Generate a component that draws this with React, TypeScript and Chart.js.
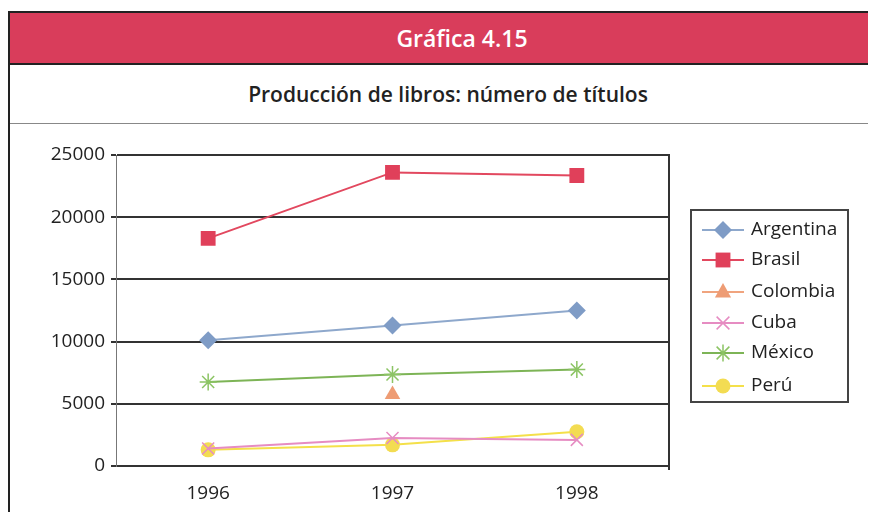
import React, { useEffect, useRef } from "react";
import { Chart, registerables } from "chart.js";

Chart.register(...registerables);

const years = ["1996", "1997", "1998"];
const argentina = [10100, 11300, 12500];
const brasil = [18300, 23600, 23350];
const colombia = [null, 5750, null];
const cuba = [1400, 2250, 2100];
const mexico = [6750, 7350, 7750];
const peru = [1300, 1700, 2750];
const yTicks = [0, 5000, 10000, 15000, 20000, 25000];

const FONT = "'Open Sans', 'DejaVu Sans', sans-serif";

type Series = {
  label: string;
  data: (number | null)[];
  line: string;
  fill: string;
  style: string;
  radius: number;
};

const series: Series[] = [
  { label: "Argentina", data: argentina, line: "#8ea8cc", fill: "#7f9cc6", style: "rectRot", radius: 9 },
  { label: "Brasil", data: brasil, line: "#e2485f", fill: "#e0405a", style: "rect", radius: 10.5 },
  { label: "Colombia", data: colombia, line: "#f0a47e", fill: "#ee9c74", style: "triangle", radius: 9 },
  { label: "Cuba", data: cuba, line: "#e68cc2", fill: "#e68cc2", style: "crossRot", radius: 8.5 },
  { label: "México", data: mexico, line: "#7db456", fill: "#8cc464", style: "star", radius: 8.5 },
  { label: "Perú", data: peru, line: "#f4e04a", fill: "#f3dc52", style: "circle", radius: 7.5 },
];

function drawMarker(ctx: CanvasRenderingContext2D, s: Series, x: number, y: number) {
  const r = s.radius;
  ctx.save();
  ctx.fillStyle = s.fill;
  ctx.strokeStyle = s.fill;
  ctx.lineWidth = 1.5;
  ctx.beginPath();
  switch (s.style) {
    case "rectRot":
      ctx.moveTo(x - r, y);
      ctx.lineTo(x, y - r);
      ctx.lineTo(x + r, y);
      ctx.lineTo(x, y + r);
      ctx.closePath();
      ctx.fill();
      break;
    case "rect": {
      const h = r * Math.SQRT1_2;
      ctx.rect(x - h, y - h, 2 * h, 2 * h);
      ctx.fill();
      break;
    }
    case "triangle":
      ctx.moveTo(x, y - r);
      ctx.lineTo(x + r * 0.9, y + r * 0.6);
      ctx.lineTo(x - r * 0.9, y + r * 0.6);
      ctx.closePath();
      ctx.fill();
      break;
    case "crossRot": {
      const h = r * 0.75;
      ctx.moveTo(x - h, y - h);
      ctx.lineTo(x + h, y + h);
      ctx.moveTo(x + h, y - h);
      ctx.lineTo(x - h, y + h);
      ctx.stroke();
      break;
    }
    case "star": {
      const h = r * 0.75;
      ctx.moveTo(x - h, y - h);
      ctx.lineTo(x + h, y + h);
      ctx.moveTo(x + h, y - h);
      ctx.lineTo(x - h, y + h);
      ctx.moveTo(x, y - r);
      ctx.lineTo(x, y + r);
      ctx.stroke();
      break;
    }
    default:
      ctx.arc(x, y, r, 0, Math.PI * 2);
      ctx.fill();
  }
  ctx.restore();
}

const framePlugin = {
  id: "frame",
  beforeDatasetsDraw(chart: any) {
    const { ctx, chartArea } = chart;
    ctx.save();
    ctx.strokeStyle = "#333";
    ctx.lineWidth = 2;
    ctx.beginPath();
    ctx.moveTo(chartArea.right, chartArea.top - 1);
    ctx.lineTo(chartArea.right, chartArea.bottom + 4);
    ctx.stroke();
    ctx.restore();
  },
  afterDraw(chart: any) {
    const { ctx, chartArea } = chart;
    const bx = chartArea.right + 22;
    const by = chartArea.top + 55;
    const bw = 157;
    const bh = 192;
    ctx.save();
    ctx.fillStyle = "#fff";
    ctx.fillRect(bx, by, bw, bh);
    ctx.strokeStyle = "#444";
    ctx.lineWidth = 2;
    ctx.strokeRect(bx, by, bw, bh);
    const rowY = [20, 50, 82, 113, 143, 176];
    series.forEach((s, i) => {
      const y = by + rowY[i];
      ctx.strokeStyle = s.line;
      ctx.lineWidth = 2;
      ctx.beginPath();
      ctx.moveTo(bx + 11, y);
      ctx.lineTo(bx + 53, y);
      ctx.stroke();
      drawMarker(ctx, s, bx + 32, y);
      ctx.fillStyle = "#222";
      ctx.font = `19px ${FONT}`;
      ctx.textBaseline = "middle";
      ctx.textAlign = "left";
      ctx.fillText(s.label, bx + 60, y);
    });
    ctx.restore();
  },
};

function ChartCanvas() {
  const ref = useRef<HTMLCanvasElement | null>(null);
  useEffect(() => {
    if (!ref.current) return;
    const chart = new Chart(ref.current, {
      type: "line",
      data: {
        labels: years,
        datasets: series.map((s) => ({
          label: s.label,
          data: s.data,
          borderColor: s.line,
          backgroundColor: s.fill,
          borderWidth: 2,
          pointStyle: s.style as any,
          pointRadius: s.radius,
          pointBackgroundColor: s.fill,
          pointBorderColor: s.fill,
          pointBorderWidth: s.style === "crossRot" || s.style === "star" ? 1.5 : 0,
          tension: 0,
          spanGaps: false,
        })),
      },
      options: {
        animation: false,
        responsive: false,
        devicePixelRatio: 1,
        layout: { padding: { top: 31, right: 207, left: 0, bottom: 0 } },
        plugins: {
          legend: { display: false },
          tooltip: { enabled: false },
          title: { display: false },
        },
        scales: {
          x: {
            offset: true,
            grid: { display: false },
            border: { display: false },
            ticks: { color: "#222", font: { family: FONT, size: 19 }, padding: 8 },
            afterFit(scale: any) {
              scale.height = 46;
            },
          },
          y: {
            min: 0,
            max: 25000,
            afterBuildTicks(scale: any) {
              scale.ticks = yTicks.map((v) => ({ value: v }));
            },
            grid: { color: "#333", lineWidth: 2, tickLength: 5, tickColor: "#333" },
            border: { display: true, color: "#777", width: 1 },
            ticks: {
              color: "#222",
              font: { family: FONT, size: 19 },
              padding: 6,
              callback: (v: any) => String(v),
            },
            afterFit(scale: any) {
              scale.width = 106;
            },
          },
        },
      },
      plugins: [framePlugin],
    });
    return () => chart.destroy();
  }, []);
  return <canvas ref={ref} width={866} height={388} style={{ display: "block" }} />;
}

export default function App() {
  return (
    <div style={{ paddingTop: 3 }}>
      <div
        style={{
          width: 866,
          borderTop: "2px solid #222",
          borderLeft: "2px solid #222",
          fontFamily: FONT,
          background: "#fff",
        }}
      >
        <div
          style={{
            height: 52,
            background: "#d93d5b",
            borderBottom: "2px solid #222",
            color: "#fff",
            fontSize: 23,
            fontWeight: 600,
            lineHeight: "50px",
            textAlign: "center",
            paddingLeft: 38,
            boxSizing: "border-box",
          }}
        >
          Gráfica 4.15
        </div>
        <div
          style={{
            height: 59,
            borderBottom: "1px solid #888",
            color: "#222",
            fontSize: 21,
            fontWeight: 600,
            lineHeight: "58px",
            textAlign: "center",
            paddingLeft: 10,
            boxSizing: "border-box",
          }}
        >
          Producción de libros: número de títulos
        </div>
        <ChartCanvas />
      </div>
    </div>
  );
}
